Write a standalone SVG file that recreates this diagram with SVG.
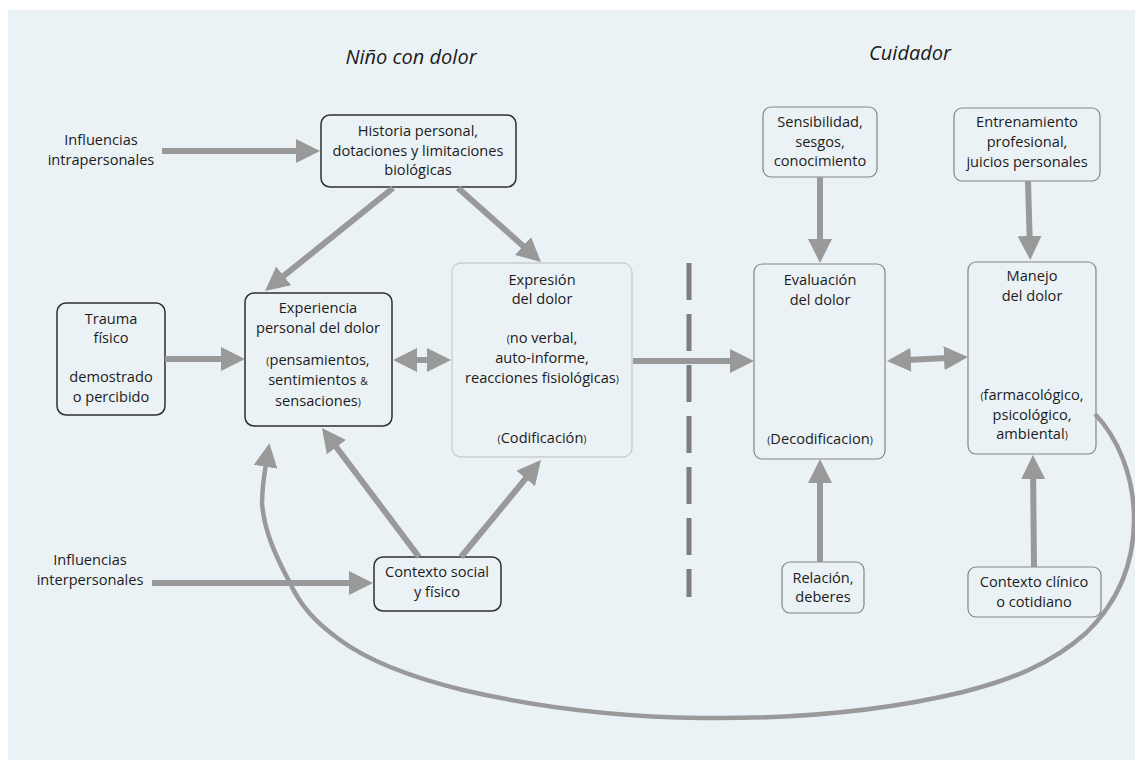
<svg xmlns="http://www.w3.org/2000/svg" width="1135" height="760" viewBox="0 0 1135 760">
  <style>
    text { font-family: "Open Sans", "Noto Sans", "DejaVu Sans", sans-serif; font-size: 14.6px; fill: #1c1c1c; text-anchor: middle; }
    .title { font-size: 20px; font-style: italic; fill: #1a1a1a; }
    .sm { font-size: 10.5px; }
    .box-dark { fill: none; stroke: #2e2e2e; stroke-width: 1.5; }
    .box-light { fill: none; stroke: #c9cdd0; stroke-width: 1.3; }
    .box-mid { fill: none; stroke: #858585; stroke-width: 1.2; }
    .arrow { fill: none; stroke: #999; stroke-width: 6; marker-end: url(#head); }
    .both { marker-start: url(#head); }
    .loop { fill: none; stroke: #999; stroke-width: 4.5; marker-end: url(#head); }
    .divider { stroke: #7d7d7d; stroke-width: 5; stroke-dasharray: 37 14; }
  </style>
  <defs>
    <marker id="head" markerUnits="userSpaceOnUse" markerWidth="24" markerHeight="24" refX="14" refY="12" orient="auto-start-reverse">
      <path d="M0,0 L24,12 L0,24 Z" fill="#999"/>
    </marker>
  </defs>

  <!-- panel -->
  <rect x="8" y="10" width="1127" height="750" fill="#ebf2f5"/>

  <!-- headings -->
  <text class="title" x="411" y="64">Niño con dolor</text>
  <text class="title" x="910" y="60">Cuidador</text>

  <!-- free labels -->
  <g id="influencias-intra">
    <text x="101" y="145">Influencias</text>
    <text x="101" y="165">intrapersonales</text>
  </g>
  <g id="influencias-inter">
    <text x="90" y="565">Influencias</text>
    <text x="90" y="585">interpersonales</text>
  </g>

  <!-- child side -->
  <g id="historia">
    <rect class="box-dark" x="321" y="115" width="195" height="72" rx="9"/>
    <text x="418" y="136">Historia personal,</text>
    <text x="418" y="156">dotaciones y limitaciones</text>
    <text x="418" y="175">biológicas</text>
  </g>
  <g id="trauma">
    <rect class="box-dark" x="57" y="303" width="108" height="112" rx="9"/>
    <text x="111" y="324">Trauma</text>
    <text x="111" y="343">físico</text>
    <text x="111" y="382">demostrado</text>
    <text x="111" y="402">o percibido</text>
  </g>
  <g id="experiencia">
    <rect class="box-dark" x="245" y="293" width="147" height="133" rx="9"/>
    <text x="318" y="313">Experiencia</text>
    <text x="318" y="333">personal del dolor</text>
    <text x="318" y="365"><tspan class="sm">(</tspan>pensamientos,</text>
    <text x="318" y="385">sentimientos <tspan class="sm">&amp;</tspan></text>
    <text x="318" y="406">sensaciones<tspan class="sm">)</tspan></text>
  </g>
  <g id="expresion">
    <rect class="box-light" x="452" y="263" width="180" height="194" rx="9"/>
    <text x="542" y="285">Expresión</text>
    <text x="542" y="304">del dolor</text>
    <text x="542" y="343"><tspan class="sm">(</tspan>no verbal,</text>
    <text x="542" y="363">auto-informe,</text>
    <text x="542" y="383">reacciones fisiológicas<tspan class="sm">)</tspan></text>
    <text x="542" y="443"><tspan class="sm">(</tspan>Codificación<tspan class="sm">)</tspan></text>
  </g>
  <g id="contexto-social">
    <rect class="box-dark" x="374" y="557" width="127" height="54" rx="9"/>
    <text x="437" y="577">Contexto social</text>
    <text x="437" y="597">y físico</text>
  </g>

  <!-- caregiver side -->
  <g id="sensibilidad">
    <rect class="box-mid" x="763" y="107" width="114" height="70" rx="8"/>
    <text x="820" y="127">Sensibilidad,</text>
    <text x="820" y="147">sesgos,</text>
    <text x="820" y="166">conocimiento</text>
  </g>
  <g id="entrenamiento">
    <rect class="box-mid" x="954" y="108" width="146" height="73" rx="8"/>
    <text x="1027" y="127">Entrenamiento</text>
    <text x="1027" y="147">profesional,</text>
    <text x="1027" y="167">juicios personales</text>
  </g>
  <g id="evaluacion">
    <rect class="box-mid" x="754" y="264" width="131" height="195" rx="8"/>
    <text x="820" y="285">Evaluación</text>
    <text x="820" y="305">del dolor</text>
    <text x="820" y="444"><tspan class="sm">(</tspan>Decodificacion<tspan class="sm">)</tspan></text>
  </g>
  <g id="manejo">
    <rect class="box-mid" x="968" y="262" width="128" height="192" rx="8"/>
    <text x="1032" y="281">Manejo</text>
    <text x="1032" y="301">del dolor</text>
    <text x="1032" y="400"><tspan class="sm">(</tspan>farmacológico,</text>
    <text x="1032" y="420">psicológico,</text>
    <text x="1032" y="439">ambiental<tspan class="sm">)</tspan></text>
  </g>
  <g id="relacion">
    <rect class="box-mid" x="782" y="562" width="82" height="51" rx="8"/>
    <text x="823" y="583">Relación,</text>
    <text x="823" y="602">deberes</text>
  </g>
  <g id="contexto-clinico">
    <rect class="box-mid" x="968" y="567" width="133" height="50" rx="8"/>
    <text x="1034" y="587">Contexto clínico</text>
    <text x="1034" y="607">o cotidiano</text>
  </g>

  <!-- child / caregiver divider -->
  <line class="divider" x1="689" y1="249" x2="689" y2="597" stroke-dashoffset="37"/>

  <!-- connectors -->
  <g id="connectors">
    <line class="arrow" x1="162" y1="151" x2="310" y2="151"/>
    <line class="arrow" x1="393" y1="188" x2="272.8" y2="284.7"/>
    <line class="arrow" x1="458" y1="188" x2="533.5" y2="255.3"/>
    <line class="arrow" x1="165" y1="359" x2="235" y2="359"/>
    <line class="arrow both" x1="403" y1="360" x2="441" y2="360"/>
    <line class="arrow" x1="633" y1="361" x2="744" y2="361"/>
    <line class="arrow" x1="419" y1="557" x2="328" y2="436"/>
    <line class="arrow" x1="461" y1="557" x2="534.6" y2="467.7"/>
    <line class="arrow" x1="152" y1="583" x2="363" y2="583"/>
    <line class="arrow" x1="820" y1="177" x2="820" y2="253"/>
    <line class="arrow" x1="1028" y1="181" x2="1030" y2="250"/>
    <line class="arrow both" x1="897" y1="360.5" x2="958" y2="357.5"/>
    <line class="arrow" x1="820" y1="562" x2="820" y2="469"/>
    <line class="arrow" x1="1034" y1="567" x2="1033" y2="465"/>
    <path class="loop" d="M1095,414 C1118,438 1133,475 1134,515 C1135,560 1120,600 1086,633 C1050,665 1010,680 963,692 C880,712 790,719 702,718 C620,717 540,708 463,690 C410,677 370,662 340,640 C315,622 300,605 290,583 C275,555 264,530 262,503 C262,485 265,470 267.8,453"/>
  </g>
</svg>
